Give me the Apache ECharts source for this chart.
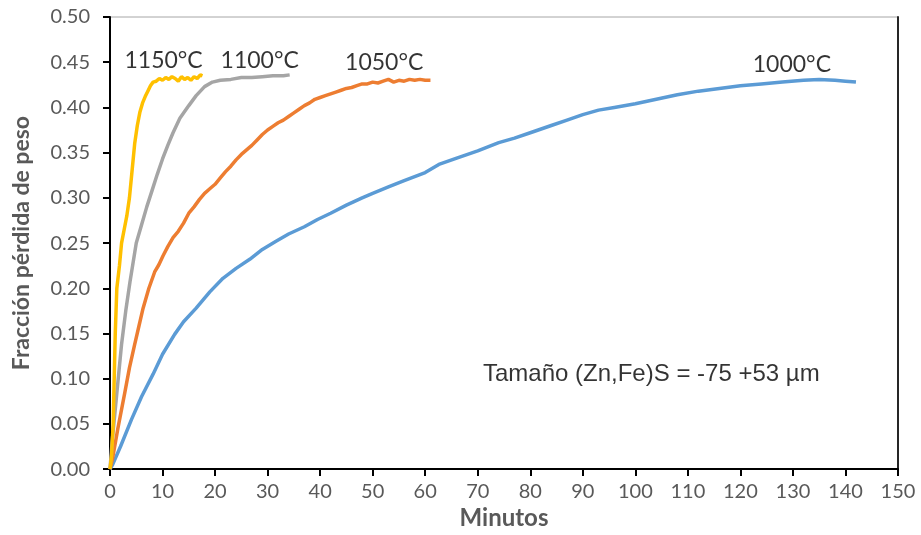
<!DOCTYPE html>
<html>
<head>
<meta charset="utf-8">
<script src="https://cdn.jsdelivr.net/npm/echarts@6/dist/echarts.min.js"></script>
<style>
  html, body { margin: 0; padding: 0; background: #fff; }
  #chart { width: 921px; height: 535px; }
</style>
</head>
<body>
<div id="chart"></div>
<script>
// datos (minutos, fracción de peso perdida)
const t1150 = [0, 0.3, 0.6, 1.0, 1.3, 1.8, 2.2, 2.7, 3.2, 3.7, 4.2, 4.7, 5.2, 5.7, 6.2, 6.7, 7.2, 7.7, 8.2, 8.8, 9.4, 10, 10.6, 11.2, 11.8, 12.4, 13, 13.6, 14.2, 14.8, 15.4, 16, 16.6, 17.2, 17.6];
const y1150 = [0, 0.015, 0.05, 0.15, 0.20, 0.225, 0.25, 0.265, 0.28, 0.30, 0.33, 0.36, 0.38, 0.395, 0.405, 0.412, 0.418, 0.424, 0.428, 0.429, 0.432, 0.430, 0.433, 0.431, 0.434, 0.432, 0.429, 0.434, 0.431, 0.433, 0.430, 0.434, 0.432, 0.436, 0.435];

const t1100 = [0, 0.4, 1.3, 2.2, 3.0, 3.8, 5.0, 6.0, 7.0, 8.0, 9.0, 10.0, 11.0, 12.0, 13.3, 15.0, 16.4, 18.0, 19.5, 21, 23, 25, 27, 29, 31, 33, 34.2];
const y1100 = [0, 0.03, 0.084, 0.138, 0.175, 0.207, 0.25, 0.27, 0.29, 0.308, 0.326, 0.343, 0.358, 0.372, 0.388, 0.402, 0.413, 0.423, 0.428, 0.430, 0.431, 0.433, 0.433, 0.434, 0.435, 0.435, 0.436];

const t1050 = [0, 0.5, 1.5, 2.8, 3.7, 4.7, 5.5, 6.3, 7.4, 8.5, 9.3, 10.1, 11, 12, 13, 14, 15, 16, 17, 18, 19, 20, 21, 22, 23, 24, 25, 26, 27, 28, 29, 30, 31, 32, 33, 34, 35, 36, 37, 38, 39, 40, 41, 42, 43, 44, 45, 46, 47, 48, 49, 50, 51, 52, 53, 54, 55, 56, 57, 58, 59, 60, 61];
const y1050 = [0, 0.012, 0.045, 0.084, 0.112, 0.138, 0.158, 0.178, 0.200, 0.218, 0.226, 0.236, 0.246, 0.256, 0.263, 0.272, 0.283, 0.290, 0.298, 0.305, 0.310, 0.315, 0.322, 0.329, 0.335, 0.342, 0.348, 0.353, 0.358, 0.364, 0.370, 0.375, 0.379, 0.383, 0.386, 0.390, 0.394, 0.398, 0.402, 0.405, 0.409, 0.411, 0.413, 0.415, 0.417, 0.419, 0.421, 0.422, 0.424, 0.426, 0.426, 0.428, 0.427, 0.429, 0.431, 0.428, 0.430, 0.429, 0.431, 0.430, 0.431, 0.430, 0.430];

const t1000 = [0, 0.5, 2, 4.1, 6, 8.2, 10, 12.3, 14, 16.4, 19, 21.5, 24, 26.6, 29, 31.6, 34, 37, 39.5, 42, 45, 48, 50, 53, 56, 60, 62.6, 66, 70, 74, 77, 80, 84, 87, 90, 93, 96, 100, 104, 108, 112, 116, 120, 124, 128, 132, 135, 138, 140, 142];
const y1000 = [0, 0.005, 0.025, 0.055, 0.08, 0.105, 0.127, 0.149, 0.163, 0.178, 0.196, 0.211, 0.222, 0.232, 0.243, 0.252, 0.260, 0.268, 0.276, 0.283, 0.292, 0.300, 0.305, 0.312, 0.319, 0.328, 0.337, 0.344, 0.352, 0.361, 0.366, 0.372, 0.380, 0.386, 0.392, 0.397, 0.400, 0.404, 0.409, 0.414, 0.418, 0.421, 0.424, 0.426, 0.428, 0.430, 0.431, 0.430, 0.429, 0.428];

const seriesNames = ['1000°C', '1050°C', '1100°C', '1150°C'];
const seriesColors = ['#5B9BD5', '#ED7D31', '#A5A5A5', '#FFC000'];
const seriesT = [t1000, t1050, t1100, t1150];
const seriesY = [y1000, y1050, y1100, y1150];

// posición de las etiquetas de temperatura (en coordenadas de datos)
const labelX = [129.8, 52.2, 28.5, 10.2];
const labelY = [0.447, 0.450, 0.452, 0.452];

const noteText = 'Tamaño (Zn,Fe)S = -75 +53 µm';
const notePos = [71, 0.105];

const lineSeries = seriesNames.map((name, i) => ({
  name: name,
  type: 'line',
  data: seriesT[i].map((t, k) => [t, seriesY[i][k]]),
  showSymbol: false,
  symbol: 'none',
  smooth: false,
  lineStyle: { color: seriesColors[i], width: 3.5 },
  itemStyle: { color: seriesColors[i] },
  z: 3 + i
}));

const chart = echarts.init(document.getElementById('chart'));

chart.setOption({
  animation: false,
  backgroundColor: '#fff',
  grid: {
    left: 110, right: 23, top: 17, bottom: 58,
    show: true, borderWidth: 1, borderColor: '#a6a6a6'
  },
  xAxis: {
    type: 'value', min: 0, max: 150, interval: 10,
    axisLine: { show: true, lineStyle: { color: '#000', width: 2 } },
    axisTick: { show: true, inside: false, length: 7, lineStyle: { color: '#000', width: 2 } },
    splitLine: { show: false },
    axisLabel: { color: '#595959', fontSize: 20, fontFamily: 'Lato', margin: 12 },
    name: 'Minutos', nameLocation: 'middle', nameGap: 30,
    nameTextStyle: { color: '#595959', fontSize: 24, fontWeight: 'bold', fontFamily: 'Lato' }
  },
  yAxis: [{
    type: 'value', min: 0, max: 0.5, interval: 0.05,
    axisLine: { show: true, lineStyle: { color: '#000', width: 2 } },
    axisTick: { show: true, inside: false, length: 7, lineStyle: { color: '#000', width: 2 } },
    splitLine: { show: false },
    axisLabel: {
      color: '#595959', fontSize: 20, fontFamily: 'Lato', margin: 20,
      formatter: v => v.toFixed(2)
    },
    name: 'Fracción pérdida de peso', nameLocation: 'middle', nameGap: 77,
    nameTextStyle: { color: '#595959', fontSize: 23, fontWeight: 'bold', fontFamily: 'Lato' }
  }, {
    type: 'value', min: 0, max: 0.5, position: 'right',
    axisLine: { show: true, lineStyle: { color: '#262626', width: 2 } },
    axisTick: { show: false }, axisLabel: { show: false }, splitLine: { show: false }
  }],
  series: [
    ...lineSeries,
    {
      type: 'scatter',
      symbolSize: 0,
      silent: true,
      data: seriesNames.map((n, i) => ({ name: n, value: [labelX[i], labelY[i]] })),
      label: {
        show: true, position: 'inside', formatter: p => p.name,
        color: '#000', fontSize: 23, fontFamily: 'Lato'
      },
      z: 10
    },
    {
      type: 'scatter',
      symbolSize: 0,
      silent: true,
      data: [{ name: noteText, value: notePos }],
      label: {
        show: true, position: 'right', distance: 0, formatter: p => p.name,
        color: '#000', fontSize: 24, fontFamily: 'Liberation Sans'
      },
      z: 10
    }
  ]
});
</script>
</body>
</html>
